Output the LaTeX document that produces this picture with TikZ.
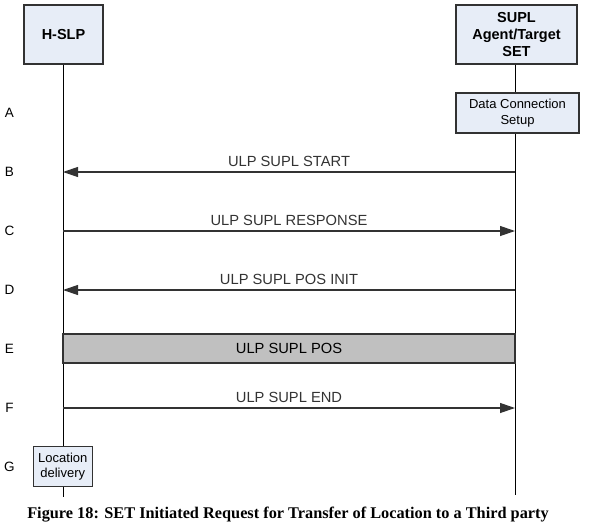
\documentclass[tikz,border=0pt]{standalone}
\usepackage{fontspec}
\setmainfont{Liberation Sans}
\newfontfamily\captionfont{Liberation Serif}
\usetikzlibrary{arrows.meta}
\definecolor{boxblue}{RGB}{231,237,247}
\definecolor{posgray}{RGB}{192,192,192}
\definecolor{edgegray}{RGB}{50,50,50}
\begin{document}
\begin{tikzpicture}[x=1pt, y=1pt, >={Triangle[length=15pt, width=10pt]},
    entity/.style={draw=edgegray, line width=1.4pt, fill=boxblue, align=center, inner sep=0pt,
      font=\bfseries\fontsize{14.5}{17}\selectfont},
    procbox/.style={draw=edgegray, line width=1.2pt, fill=boxblue, align=center, inner sep=0pt,
      font=\fontsize{13}{15.5}\selectfont},
    lifeline/.style={line width=1pt, black},
    msg/.style={->, line width=1.2pt, black!80},
    msglbl/.style={anchor=base, yshift=6pt, font=\fontsize{14.7}{17}\selectfont},
    steplbl/.style={font=\fontsize{13.5}{16}\selectfont}]
    \useasboundingbox (0,0) rectangle (592,-528);

    % Entidades no topo
    \node[entity, minimum width=79pt, minimum height=59pt] (hslp) at (63.5,-34.5) {H-SLP};
    \node[entity, minimum width=121pt, minimum height=59pt] (set) at (516.5,-34.5) {SUPL\\Agent/Target\\SET};

    % Extremidades inferiores das linhas de vida
    \coordinate (hslpend) at (63,-497);
    \coordinate (setend) at (515,-495);

    % Linhas de vida
    \draw[lifeline] (hslp.south -| hslpend) -- (hslpend);
    \draw[lifeline] (set.south -| setend) -- (setend);

    % Caixa de estabelecimento da conexao (passo A)
    \node[procbox, minimum width=123pt, minimum height=40pt] (dcs) at (517.5,-113) {Data Connection\\Setup};

    % Rotulos dos passos a esquerda
    \foreach \s/\yy in {A/113, B/172, C/231, D/290, E/349, F/408, G/467} {
      \node[steplbl] (lbl\s) at (9.5,-\yy) {\s};
    }

    % Pontos das mensagens nas linhas de vida
    \foreach \s/\yy in {B/172, C/231, D/290, F/408} {
      \coordinate (h\s) at (63,-\yy);
      \coordinate (t\s) at (515,-\yy);
    }

    % Mensagens ULP
    \draw[msg] (tB) -- (hB) node[msglbl, midway] (mB) {ULP SUPL START};
    \draw[msg] (hC) -- (tC) node[msglbl, midway] (mC) {ULP SUPL RESPONSE};
    \draw[msg] (tD) -- (hD) node[msglbl, midway] (mD) {ULP SUPL POS INIT};
    \draw[msg] (hF) -- (tF) node[msglbl, midway] (mF) {ULP SUPL END};

    % Troca de mensagens SUPL POS (passo E)
    \node[draw=edgegray, line width=1.2pt, fill=posgray, minimum width=452pt, minimum height=29pt,
      inner sep=0pt, font=\fontsize{14.7}{17}\selectfont] (pos) at (289,-348.5) {ULP SUPL POS};

    % Entrega da localizacao (passo G)
    \node[procbox, minimum width=59pt, minimum height=40pt] (deliv) at (62.8,-466.7) {Location\\delivery};

    % Legenda da figura
    \node[font=\captionfont\bfseries\fontsize{16.3}{19}\selectfont, anchor=base] (cap) at (288,-518)
      {Figure 18: SET Initiated Request for Transfer of Location to a Third party};
\end{tikzpicture}
\end{document}
